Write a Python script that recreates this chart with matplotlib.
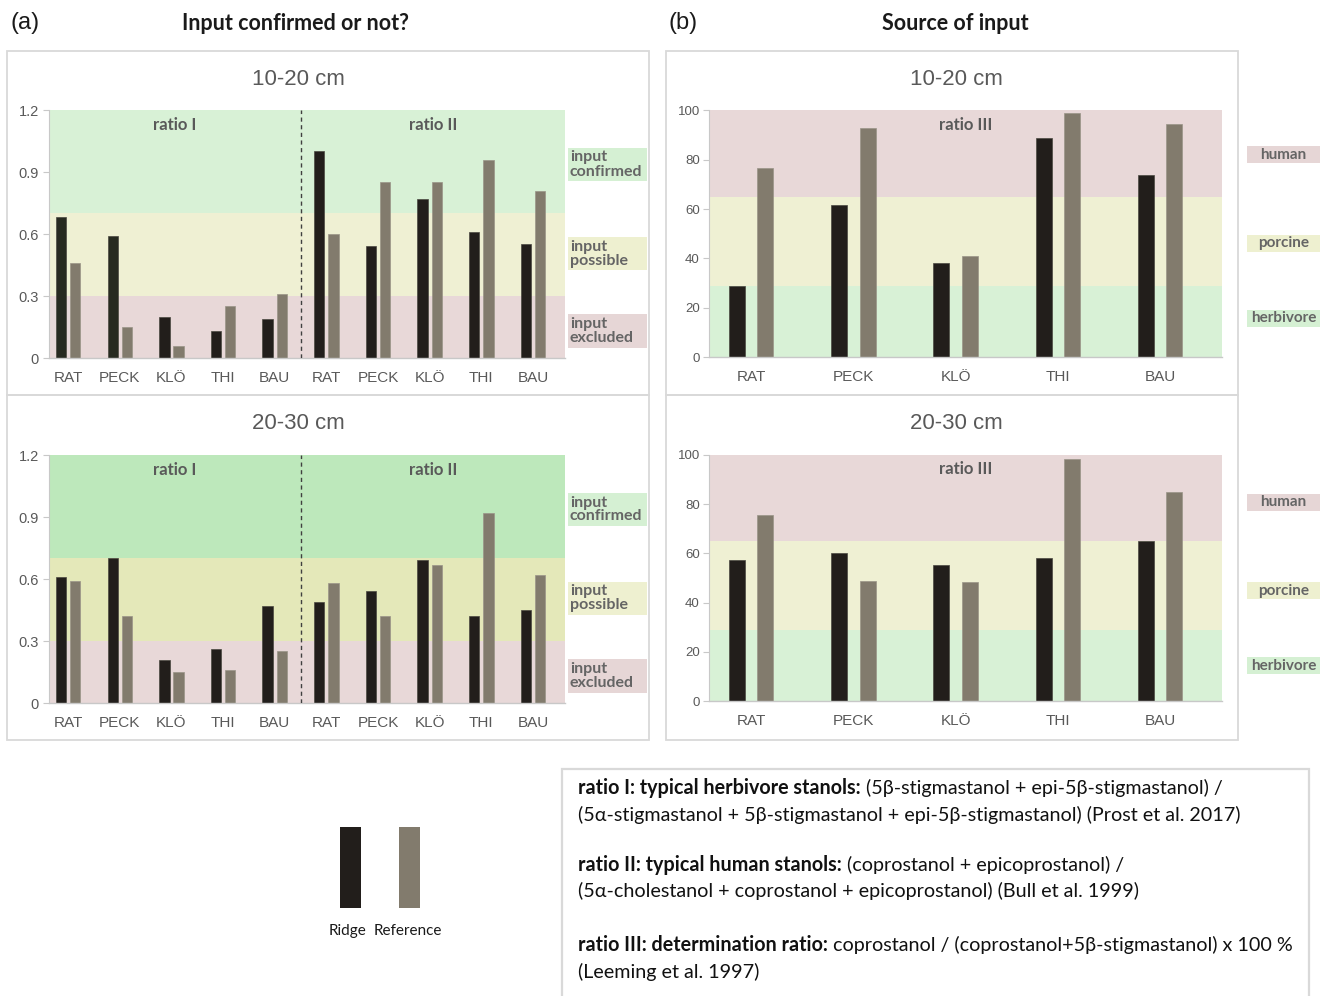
import matplotlib
matplotlib.use("Agg")
import matplotlib.pyplot as plt
from matplotlib.patches import Rectangle
import numpy as np

# ---------------- data ----------------
sites = ["RAT", "PECK", "KLÖ", "THI", "BAU"]

ratio1_ridge_10_20 = [0.68, 0.59, 0.20, 0.13, 0.19]
ratio1_ref_10_20 = [0.46, 0.15, 0.06, 0.25, 0.31]
ratio2_ridge_10_20 = [1.00, 0.54, 0.77, 0.61, 0.55]
ratio2_ref_10_20 = [0.60, 0.85, 0.85, 0.96, 0.81]

ratio1_ridge_20_30 = [0.61, 0.70, 0.21, 0.26, 0.47]
ratio1_ref_20_30 = [0.59, 0.42, 0.15, 0.16, 0.25]
ratio2_ridge_20_30 = [0.49, 0.54, 0.69, 0.42, 0.45]
ratio2_ref_20_30 = [0.58, 0.42, 0.67, 0.92, 0.62]

ratio3_ridge_10_20 = [29.0, 61.5, 38.3, 88.7, 73.7]
ratio3_ref_10_20 = [76.8, 93.0, 41.2, 98.9, 94.3]
ratio3_ridge_20_30 = [57.4, 60.3, 55.1, 58.0, 65.1]
ratio3_ref_20_30 = [75.5, 48.6, 48.4, 98.1, 84.7]

ratio12_ticks = [0, 0.3, 0.6, 0.9, 1.2]
ratio12_ticklabels = ["0", "0.3", "0.6", "0.9", "1.2"]
ratio3_ticks = [0, 20, 40, 60, 80, 100]
ratio12_limits = [0.3, 0.7]      # excluded / possible / confirmed
ratio3_limits = [29, 65]         # herbivore / porcine / human

# ---------------- style ----------------
W, H = 1330, 996
RIDGE = "#221e1b"
RIDGE_GREENISH = "#272a20"
REF = "#827b6d"
GRAY_TXT = "#595959"
LABEL_TXT = "#656565"
BORDER = "#d9d9d9"
GREEN = "#d8f1d6"
GREEN_STRONG = "#bde8bb"
YELLOW = "#eff0d3"
YELLOW_STRONG = "#e4e8b9"
PINK = "#e8d8d8"
BOX_GREEN = "#d5f0d3"
BOX_YELLOW = "#eef0d0"
BOX_PINK = "#e6d6d6"

SANS = ["Liberation Sans", "DejaVu Sans"]
CAL = ["Lato", "DejaVu Sans"]

plt.rcParams["font.family"] = SANS

fig = plt.figure(figsize=(W / 100, H / 100), dpi=100)
fig.patch.set_facecolor("white")


def fx(px):
    return px / W


def fy(py):
    return 1 - py / H


def add_axes(left, right, top, bottom):
    return fig.add_axes([fx(left), fy(bottom), (right - left) / W, (bottom - top) / H])


def frame(left, right, top, bottom):
    fig.add_artist(Rectangle((fx(left), fy(bottom)), (right - left) / W, (bottom - top) / H,
                             transform=fig.transFigure, facecolor="none",
                             edgecolor=BORDER, lw=1.3))


def label_box(left, right, top, bottom, color, lines, center=False):
    fig.add_artist(Rectangle((fx(left), fy(bottom)), (right - left) / W, (bottom - top) / H,
                             transform=fig.transFigure, facecolor=color,
                             edgecolor="none"))
    n = len(lines)
    mid = (top + bottom) / 2
    step = 14
    for i, line in enumerate(lines):
        yy = mid + (i - (n - 1) / 2) * step
        if center:
            fig.text(fx((left + right) / 2), fy(yy), line, ha="center", va="center",
                     fontsize=11, fontweight="bold", color=LABEL_TXT, family=CAL)
        else:
            fig.text(fx(left + 2), fy(yy), line, ha="left", va="center",
                     fontsize=11.5, fontweight="bold", color=LABEL_TXT, family=CAL)


def style_axes(ax, ticks, ticklabels, ytick_size):
    for s in ["top", "right"]:
        ax.spines[s].set_visible(False)
    ax.spines["left"].set_color("#c8c8c8")
    ax.spines["bottom"].set_color("#c8c8c8")
    ax.spines["left"].set_linewidth(0.8)
    ax.spines["bottom"].set_linewidth(1.0)
    ax.set_yticks(ticks)
    ax.set_yticklabels(ticklabels)
    ax.tick_params(axis="y", length=4, width=0.8, color="#c8c8c8",
                   labelsize=ytick_size, labelcolor=GRAY_TXT, pad=3)
    ax.tick_params(axis="x", length=0, labelsize=11, labelcolor=GRAY_TXT, pad=9.5)
    ax.set_facecolor("none")


def panel_a(top, bottom, r1_ridge, r1_ref, r2_ridge, r2_ref, strong, ridge_colors):
    ax = add_axes(48.5, 565, top, bottom)
    ax.set_xlim(-0.38, 9.62)
    ax.set_ylim(0, 1.2)
    ax.axhspan(0, ratio12_limits[0], color=PINK, lw=0, zorder=0)
    ax.axhspan(ratio12_limits[0], ratio12_limits[1],
               color=YELLOW_STRONG if strong else YELLOW, lw=0, zorder=0)
    ax.axhspan(ratio12_limits[1], 1.2,
               color=GREEN_STRONG if strong else GREEN, lw=0, zorder=0)
    x = np.arange(10)
    ridge = list(r1_ridge) + list(r2_ridge)
    ref = list(r1_ref) + list(r2_ref)
    ax.bar(x - 0.137, ridge, width=0.2, color=ridge_colors, edgecolor="#4a4840",
           lw=0.5, zorder=2)
    ax.bar(x + 0.137, ref, width=0.2, color=REF, edgecolor="#9a9488", lw=0.5, zorder=2)
    ax.set_xticks(x)
    ax.set_xticklabels(sites + sites)
    ax.plot([4.5, 4.5], [0, 1.2], ls=(0, (3, 2.5)), color="#404040", lw=1.0, zorder=3)
    ax.text(2.06, 1.127, "ratio I", ha="center", va="center", fontsize=12,
            fontweight="bold", color=GRAY_TXT, family=CAL, zorder=4)
    ax.text(7.06, 1.127, "ratio II", ha="center", va="center", fontsize=12,
            fontweight="bold", color=GRAY_TXT, family=CAL, zorder=4)
    style_axes(ax, ratio12_ticks, ratio12_ticklabels, 10.5)
    return ax


def panel_b(top, bottom, ridge, ref):
    ax = add_axes(709.5, 1222, top, bottom)
    ax.set_xlim(-0.408, 4.606)
    ax.set_ylim(0, 100)
    ax.axhspan(0, ratio3_limits[0], color=GREEN, lw=0, zorder=0)
    ax.axhspan(ratio3_limits[0], ratio3_limits[1], color=YELLOW, lw=0, zorder=0)
    ax.axhspan(ratio3_limits[1], 100, color=PINK, lw=0, zorder=0)
    x = np.arange(5)
    ax.bar(x - 0.139, ridge, width=0.157, color=RIDGE, edgecolor="#4a4840", lw=0.5, zorder=2)
    ax.bar(x + 0.139, ref, width=0.157, color=REF, edgecolor="#9a9488", lw=0.5, zorder=2)
    ax.set_xticks(x)
    ax.set_xticklabels(sites)
    ax.text(0.5, 0.94, "ratio III", transform=ax.transAxes, ha="center", va="center",
            fontsize=12, fontweight="bold", color=GRAY_TXT, family=CAL, zorder=4)
    style_axes(ax, ratio3_ticks, [str(t) for t in ratio3_ticks], 9.5)
    return ax


# ---------------- headers ----------------
fig.text(fx(10), fy(23.5), "(a)", ha="left", va="center", fontsize=17, color="#1a1a1a")
fig.text(fx(295), fy(23.5), "Input confirmed or not?", ha="center", va="center",
         fontsize=15.5, fontweight="bold", color="#1a1a1a", family=CAL)
fig.text(fx(668), fy(23.5), "(b)", ha="left", va="center", fontsize=17, color="#1a1a1a")
fig.text(fx(955), fy(23.5), "Source of input", ha="center", va="center",
         fontsize=15.5, fontweight="bold", color="#1a1a1a", family=CAL)

# ---------------- panel frames and depth titles ----------------
frame(7, 649, 51, 395)
frame(7, 649, 395, 740)
frame(666, 1238, 51, 395)
frame(666, 1238, 395, 740)

for cx in (298, 956):
    fig.text(fx(cx), fy(79.5), "10-20 cm", ha="center", va="center", fontsize=16, color=GRAY_TXT)
    fig.text(fx(cx), fy(423.5), "20-30 cm", ha="center", va="center", fontsize=16, color=GRAY_TXT)

# ---------------- charts ----------------
top_colors = [RIDGE_GREENISH, RIDGE_GREENISH] + [RIDGE] * 8
panel_a(110, 358, ratio1_ridge_10_20, ratio1_ref_10_20, ratio2_ridge_10_20, ratio2_ref_10_20,
        False, top_colors)
panel_a(455, 703, ratio1_ridge_20_30, ratio1_ref_20_30, ratio2_ridge_20_30, ratio2_ref_20_30,
        True, [RIDGE] * 10)
panel_b(110.3, 357.3, ratio3_ridge_10_20, ratio3_ref_10_20)
panel_b(454.7, 701.3, ratio3_ridge_20_30, ratio3_ref_20_30)

# ---------------- zone labels ----------------
for off in (0, 345):
    label_box(568, 647, 148 + off, 181 + off, BOX_GREEN, ["input", "confirmed"])
    label_box(568, 647, 237 + off, 270 + off, BOX_YELLOW, ["input", "possible"])
    label_box(568, 647, 314 + off, 348 + off, BOX_PINK, ["input", "excluded"])

label_box(1247, 1320, 146, 163, BOX_PINK, ["human"], center=True)
label_box(1247, 1320, 235, 252, BOX_YELLOW, ["porcine"], center=True)
label_box(1247, 1320, 310, 327, BOX_GREEN, ["herbivore"], center=True)
label_box(1247, 1320, 494, 511, BOX_PINK, ["human"], center=True)
label_box(1247, 1320, 582, 599, BOX_YELLOW, ["porcine"], center=True)
label_box(1247, 1320, 657, 674, BOX_GREEN, ["herbivore"], center=True)

# ---------------- legend ----------------
fig.add_artist(Rectangle((fx(340), fy(908)), 21 / W, 81 / H, transform=fig.transFigure,
                         facecolor=RIDGE, edgecolor="none"))
fig.add_artist(Rectangle((fx(399), fy(908)), 21 / W, 81 / H, transform=fig.transFigure,
                         facecolor=REF, edgecolor="none"))
fig.text(fx(347), fy(931), "Ridge", ha="center", va="center", fontsize=11, color="#1a1a1a", family=CAL)
fig.text(fx(408), fy(931), "Reference", ha="center", va="center", fontsize=11, color="#1a1a1a", family=CAL)

# ---------------- ratio definitions ----------------
fig.add_artist(Rectangle((fx(562), fy(1000)), (1309 - 562) / W, (1000 - 769) / H,
                         transform=fig.transFigure, facecolor="white",
                         edgecolor=BORDER, lw=1.6))

renderer = fig.canvas.get_renderer()
NOTE_SIZE = 14.2


def note_line(y, bold, normal):
    x0 = fx(578)
    if bold:
        t = fig.text(x0, fy(y), bold, ha="left", va="center", fontsize=NOTE_SIZE,
                     fontweight="bold", color="#111111", family=CAL)
        bb = t.get_window_extent(renderer)
        x0 = bb.x1 / W
    if normal:
        fig.text(x0, fy(y), normal, ha="left", va="center", fontsize=NOTE_SIZE,
                 color="#111111", family=CAL)


note_line(788, "ratio I: typical herbivore stanols:", " (5β-stigmastanol + epi-5β-stigmastanol) /")
note_line(815, None, "(5α-stigmastanol + 5β-stigmastanol + epi-5β-stigmastanol) (Prost et al. 2017)")
note_line(865, "ratio II: typical human stanols:", " (coprostanol + epicoprostanol) /")
note_line(891, None, "(5α-cholestanol + coprostanol + epicoprostanol) (Bull et al. 1999)")
note_line(945, "ratio III: determination ratio:", " coprostanol / (coprostanol+5β-stigmastanol) x 100 %")
note_line(972, None, "(Leeming et al. 1997)")

fig.savefig("out.png", dpi=100)
